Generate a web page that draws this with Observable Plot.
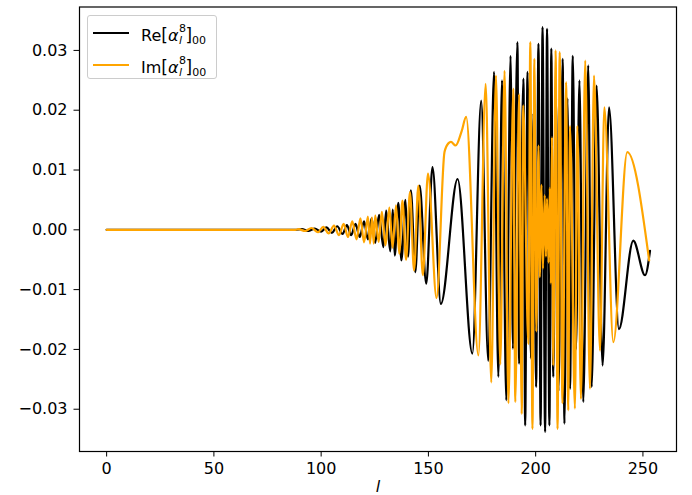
<!DOCTYPE html>
<html>
<head>
<meta charset="utf-8">
<script src="https://cdn.jsdelivr.net/npm/d3@7"></script>
<script src="https://cdn.jsdelivr.net/npm/@observablehq/plot@0.6"></script>
<style>
  body { margin: 0; background: white; }
  #wrap { position: relative; width: 692px; height: 495px; overflow: hidden; font-family: "DejaVu Sans", sans-serif; }
  .leg { position: absolute; left: 87px; top: 15px; width: 130px; height: 64px; border: 1px solid #cccccc; border-radius: 3px; background: rgba(255,255,255,0.8); box-sizing: border-box; }
  .ln { position: absolute; left: 5px; width: 36px; height: 2.2px; }
  .tx { position: absolute; left: 53px; font-size: 16px; line-height: 16px; white-space: nowrap; color: black; }
  .br { font-size: 17px; }
  .ss { display: inline-block; position: relative; width: 7px; height: 0; }
  .sp { position: absolute; left: 0.5px; bottom: 7px; font-size: 11px; line-height: 11px; }
  .sb { position: absolute; left: 0.5px; bottom: -5px; font-size: 11px; line-height: 11px; font-style: italic; }
  .s0 { font-size: 11px; vertical-align: -3px; }
</style>
</head>
<body>
<div id="wrap"></div>
<script>
// Re[alpha]_00 series (black): l positions and values
const reL = [0, 88, 91, 94, 97, 100, 102.5, 105, 107.5, 110, 112, 114, 116, 118, 120, 121.8, 123.5, 125.2, 127, 129, 130.3, 132.2, 133.4, 134.3, 136, 137.4, 139.3, 140.5, 141.8, 143.9, 145.9, 149, 151.9, 155.8, 163.6, 170.5, 174.6, 177.9, 180.6, 182.6, 184.3, 186.3, 188.3, 189.4, 191.5, 192.3, 194.3, 195.1, 196.2, 197.8, 199.0, 200.2, 201.3, 202.3, 203.2, 204.4, 205.3, 206.4, 207.3, 208.2, 209.5, 210.6, 212.6, 213.4, 214.8, 216.0, 217.3, 218.8, 220.4, 222.2, 224.5, 226.1, 228.4, 231.2, 234.2, 238.8, 245.5, 251.0, 253.3];
const reV = [0, 0, 0.0001, -0.0002, 0.0002, -0.0003, 0.0004, -0.0005, 0.0006, -0.0007, 0.0008, -0.0009, 0.0010, -0.0012, 0.0014, -0.0016, 0.0019, -0.0022, 0.0025, -0.0029, 0.0032, -0.0036, 0.0034, -0.0043, 0.0045, -0.0051, 0.0050, -0.0045, 0.0066, -0.0071, 0.0074, -0.0090, 0.0105, -0.0124, 0.0085, -0.0207, 0.0216, -0.0219, 0.0264, -0.0246, 0.0250, -0.0285, 0.0291, -0.0199, 0.0314, -0.0224, 0.0253, -0.0327, 0.0264, -0.0215, 0.0195, -0.0263, 0.0311, -0.0327, 0.0339, -0.0338, 0.0336, -0.0327, 0.0303, -0.0246, 0.0220, -0.0270, 0.0286, -0.0324, 0.0220, -0.0266, 0.0291, -0.0200, 0.0250, -0.0288, 0.0275, -0.0263, 0.0241, -0.0227, 0.0205, -0.0166, -0.0018, -0.0076, -0.0035];

// Im[alpha]_00 series (orange)
const imL = [0, 88, 89.5, 92.5, 95.5, 98.5, 101, 103.5, 106, 108.3, 110.5, 112.5, 114.5, 116.5, 118.3, 120, 121.8, 122.8, 123.7, 124.5, 125.2, 126.8, 128.3, 130, 131.8, 133.3, 134.9, 136.4, 137.9, 139.6, 141.4, 143.3, 145.3, 147.4, 149.8, 153.8, 157.5, 159.4, 160.5, 162.7, 165.5, 167.6, 173.3, 176.7, 179.3, 181.5, 183.5, 185.5, 187.3, 189.6, 190.5, 192.3, 193.5, 194.2, 196.6, 197.5, 198.5, 199.4, 200.3, 201.3, 201.9, 202.7, 203.4, 204.2, 204.8, 205.3, 206.0, 206.6, 207.1, 207.6, 208.2, 209.3, 210.2, 211.2, 212.5, 214.2, 215.2, 216.0, 218.3, 219.4, 221.1, 223.1, 225.3, 227.2, 230.0, 232.0, 236.2, 242.7, 252.9];
const imV = [0, 0, 0.0001, -0.0002, 0.0003, -0.0004, 0.0005, -0.0006, 0.0007, -0.0009, 0.0010, -0.0012, 0.0014, -0.0016, 0.0019, -0.0021, 0.0022, -0.0023, 0.0021, -0.0023, 0.0024, -0.0020, 0.0030, -0.0026, 0.0037, -0.0030, 0.0041, -0.0040, 0.0049, -0.0050, 0.0063, -0.0068, 0.0074, -0.0076, 0.0094, -0.0114, 0.0130, 0.0145, 0.0147, 0.0141, 0.0165, 0.0189, -0.0210, 0.0244, -0.0255, 0.0258, -0.0225, 0.0266, -0.0290, 0.0236, -0.0288, 0.0227, -0.0308, 0.0208, -0.0191, 0.0314, -0.0333, 0.0286, -0.0170, 0.0141, -0.0079, 0.0075, -0.0065, 0.0058, -0.0045, 0.0052, -0.0055, 0.0070, -0.0090, 0.0155, -0.0227, 0.0300, -0.0333, 0.0297, -0.0290, 0.0247, -0.0302, 0.0174, -0.0299, 0.0174, -0.0283, 0.0283, -0.0266, 0.0258, -0.0202, 0.0205, -0.0188, 0.0130, -0.0051];

const xTicks = [0, 50, 100, 150, 200, 250];
const yTicks = [-0.03, -0.02, -0.01, 0.00, 0.01, 0.02, 0.03];
const xLabel = "l";

const re = reL.map((l, i) => ({l, v: reV[i]}));
const im = imL.map((l, i) => ({l, v: imV[i]}));

const chart = Plot.plot({
  width: 692,
  height: 495,
  marginLeft: 79,
  marginRight: 16,
  marginTop: 6.5,
  marginBottom: 44,
  x: {domain: [-12.65, 265.65]},
  y: {domain: [-0.03707, 0.03726]},
  style: {fontFamily: "DejaVu Sans", fontSize: "16px", background: "white", color: "black", overflow: "visible"},
  marks: [
    Plot.line(re, {x: "l", y: "v", stroke: "black", strokeWidth: 2.2, curve: "monotone-x"}),
    Plot.line(im, {x: "l", y: "v", stroke: "#ffa500", strokeWidth: 2.2, curve: "monotone-x"}),
    Plot.frame({stroke: "black", strokeWidth: 1.2}),
    Plot.axisX(xTicks, {tickSize: 5.5, tickPadding: 5.5, label: null, tickFormat: d => String(d), fontSize: 16}),
    Plot.axisY(yTicks, {tickSize: 5.5, tickPadding: 6.5, label: null, tickFormat: d3.format(".2f"), fontSize: 16}),
    Plot.text([xLabel], {frameAnchor: "bottom", dy: 29, lineAnchor: "top", text: d => d, fontStyle: "italic", fontSize: 16})
  ]
});

const wrap = document.getElementById("wrap");
wrap.appendChild(chart);

const leg = document.createElement("div");
leg.className = "leg";
leg.innerHTML = `
  <div class="ln" style="top:15.6px;background:#000"></div>
  <div class="tx" style="top:10.5px">Re<span class="br">[</span><i>α</i><span class="ss"><span class="sp">8</span><span class="sb">l</span></span><span class="br">]</span><span class="s0">00</span></div>
  <div class="ln" style="top:47.9px;background:#ffa500"></div>
  <div class="tx" style="top:42.5px">Im<span class="br">[</span><i>α</i><span class="ss"><span class="sp">8</span><span class="sb">l</span></span><span class="br">]</span><span class="s0">00</span></div>
`;
wrap.appendChild(leg);
</script>
</body>
</html>
